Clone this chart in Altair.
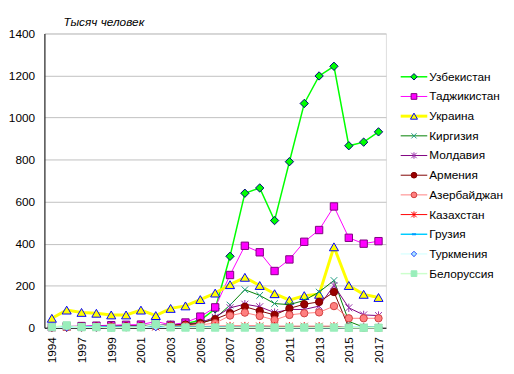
import altair as alt
import pandas as pd

# ---- data (thousand persons) ----
years = ['1994', '1996', '1997', '1998', '1999', '2000', '2001', '2002', '2003', '2004', '2005', '2006',
         '2007', '2008', '2009', '2010', '2011', '2012', '2013', '2014', '2015', '2016', '2017']
label_years = ['1994', '1997', '1999', '2001', '2003', '2005', '2007', '2009', '2011', '2013', '2015', '2017']
y_ticks = [0, 200, 400, 600, 800, 1000, 1200, 1400]

names = ['Узбекистан', 'Таджикистан', 'Украина', 'Киргизия', 'Молдавия', 'Армения',
         'Азербайджан', 'Казахстан', 'Грузия', 'Туркмения', 'Белоруссия']

uzbekistan = [2, 2, 3, 3, 4, 5, 6, 8, 12, 20, 35, 90, 340, 640, 665, 510, 790, 1067, 1198, 1244, 866, 883, 932]
tajikistan = [3, 8, 8, 10, 12, 14, 15, 30, 14, 25, 53, 97, 251, 390, 359, 270, 325, 409, 465, 577, 428, 400, 412]
ukraine = [45, 84, 73, 69, 61, 61, 84, 58, 92, 104, 134, 165, 205, 240, 201, 162, 131, 153, 159, 385, 201, 159, 144]
kirgizia = [2, 3, 3, 4, 4, 5, 5, 6, 8, 12, 20, 45, 108, 181, 154, 115, 110, 130, 170, 225, 30, 3, 2]
moldavia = [4, 6, 6, 8, 8, 10, 10, 15, 12, 18, 25, 50, 95, 112, 100, 72, 87, 87, 103, 201, 95, 61, 58]
armenia = [3, 5, 5, 6, 6, 7, 7, 10, 10, 15, 22, 41, 69, 100, 80, 61, 92, 112, 123, 170, 1, 0, 0]
azerbaijan = [2, 3, 3, 4, 4, 5, 5, 8, 8, 10, 14, 22, 58, 72, 56, 37, 61, 69, 73, 103, 45, 45, 45]
kazakhstan = [3, 3, 3, 3, 3, 3, 3, 4, 4, 5, 6, 7, 8, 8, 8, 7, 7, 7, 7, 7, 0, 0, 0]
georgia = [5, 5, 5, 5, 4, 4, 4, 4, 4, 4, 4, 4, 3, 2, 2, 1, 1, 1, 1, 1, 1, 1, 1]
turkmenia = [1, 1, 1, 1, 1, 1, 1, 2, 1, 1, 1, 1, 1, 1, 1, 1, 1, 1, 1, 1, 1, 1, 1]
belarus = [3, 11, 3, 3, 0, 2, 2, 17, 2, 1, 1, 1, 1, 1, 1, 1, 1, 1, 1, 1, 0, 0, 0]

series_values = [uzbekistan, tajikistan, ukraine, kirgizia, moldavia, armenia,
                 azerbaijan, kazakhstan, georgia, turkmenia, belarus]

X_SHAPE = "M-1,-1L1,1M-1,1L1,-1"
STAR_SHAPE = "M-1,-1L1,1M-1,1L1,-1M0,-1.2L0,1.2"
DASH_SHAPE = "M-1,0L1,0"

styles = [
    dict(line='#00FF00', lw=1.5, shape='diamond', fill='#00FF00', stroke='#000080', sw=1, size=72),
    dict(line='#FF00FF', lw=1, shape='square', fill='#FF00FF', stroke='#800080', sw=1, size=56),
    dict(line='#FFFF00', lw=3, shape='triangle-up', fill='#FFFF00', stroke='#0000FF', sw=1, size=85),
    dict(line='#008000', lw=1, shape=X_SHAPE, fill='transparent', stroke='#1a9a80', sw=1, size=45),
    dict(line='#800080', lw=1, shape=STAR_SHAPE, fill='transparent', stroke='#9933aa', sw=1, size=50),
    dict(line='#800000', lw=1, shape='circle', fill='#990000', stroke='#800000', sw=1, size=56),
    dict(line='#FF8080', lw=1, shape='circle', fill='#FF8080', stroke='#d04040', sw=1, size=56),
    dict(line='#FF0000', lw=1, shape=STAR_SHAPE, fill='transparent', stroke='#FF0000', sw=1, size=50),
    dict(line='#00CCFF', lw=1.5, shape=DASH_SHAPE, fill='transparent', stroke='#0099FF', sw=2, size=30),
    dict(line='#CCFFFF', lw=1, shape='diamond', fill='#aee8ff', stroke='#2244ff', sw=1, size=50),
    dict(line='#CCFFCC', lw=1.5, shape='square', fill='#99EEBB', stroke='#99EEBB', sw=1, size=56),
]

FONT = 'Liberation Sans'

x_enc = alt.X('year:O', sort=years, scale=alt.Scale(type='point', padding=0.5),
              axis=alt.Axis(values=label_years, title=None, labelAngle=270, labelPadding=9,
                            ticks=False, grid=False, domainColor='black', labelFontSize=12))
y_enc = alt.Y('value:Q', scale=alt.Scale(domain=[0, 1400], nice=False),
              axis=alt.Axis(values=y_ticks, format='d', title='Тысяч человек', titleAngle=0,
                            titleX=19, titleY=-8,
                            titleAlign='left', titleBaseline='alphabetic', titleFontStyle='italic',
                            titleFontWeight='normal', titleFontSize=12, titleColor='black',
                            ticks=False, labelPadding=10, grid=True, gridColor='#c0c0c0',
                            domainColor='black', labelFontSize=12))

main_layers = []
for name, vals, st in zip(names, series_values, styles):
    df = pd.DataFrame({'year': years, 'value': vals, 'series': name})
    base = alt.Chart(df)
    main_layers.append(base.mark_line(color=st['line'], strokeWidth=st['lw']).encode(x=x_enc, y=y_enc))
    main_layers.append(base.mark_point(shape=st['shape'], fill=st['fill'], stroke=st['stroke'],
                                       strokeWidth=st['sw'], size=st['size'], opacity=1)
                       .encode(x=x_enc, y=y_enc))

main = alt.layer(*main_layers)

leg_y = alt.Y('series:N', sort=names, scale=alt.Scale(type='point', padding=0, range=[44, 244]), axis=None)
legend_layers = []
for name, st in zip(names, styles):
    ldf = pd.DataFrame({'series': [name]})
    lb = alt.Chart(ldf)
    legend_layers.append(lb.mark_rule(color=st['line'], strokeWidth=st['lw']).encode(
        x=alt.value(362), x2=alt.value(389), y=leg_y))
    legend_layers.append(lb.mark_point(shape=st['shape'], fill=st['fill'], stroke=st['stroke'],
                                       strokeWidth=st['sw'], size=st['size'] * 0.6, opacity=1)
                         .encode(x=alt.value(375.5), y=leg_y))
    legend_layers.append(lb.mark_text(align='left', baseline='middle', font=FONT, fontSize=12,
                                      color='black').encode(x=alt.value(391), y=leg_y, text='series:N'))

legend = alt.layer(*legend_layers)

chart = alt.layer(main, legend).resolve_scale(y='independent').properties(
    width=347, height=299,
    autosize=alt.AutoSizeParams(type='none'),
    padding={'left': 37, 'top': 23, 'right': 122, 'bottom': 38},
).configure_view(stroke='#808080', strokeWidth=1).configure_axis(
    labelFont=FONT, titleFont=FONT, labelColor='black'
).configure(background='white')

chart.save('out.html', embed_options={'renderer': 'svg', 'actions': False})
